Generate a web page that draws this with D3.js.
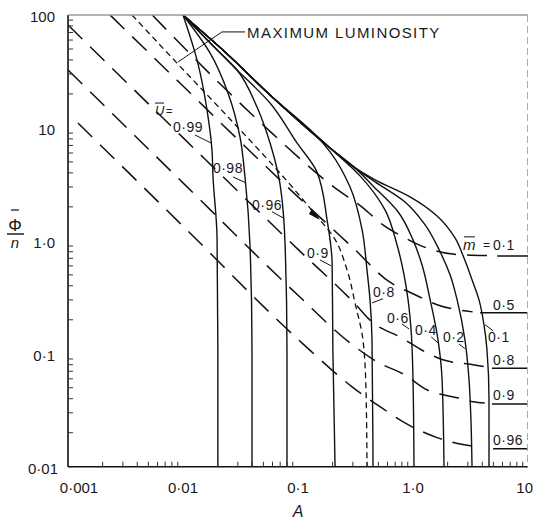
<!DOCTYPE html>
<html>
<head>
<meta charset="utf-8">
<script src="https://cdn.jsdelivr.net/npm/d3@7"></script>
<style>
body { margin: 0; background: #fff; }
svg { display: block; }
text { font-family: "Liberation Sans", Arial, sans-serif; fill: #1a1a1a; }
</style>
</head>
<body>
<div id="chart"></div>
<script>
// solid curves, one per u-bar value: [A, phi/n]
var u099 = [[0.01,100],[0.01324,40],[0.01618,14.4],[0.01786,6.38],[0.01824,3.68],[0.01977,1.08],[0.0201,0.108],[0.0201,0.01]];
var u098 = [[0.01,100],[0.01718,46.1],[0.0246,20.4],[0.0313,8.32],[0.0346,3.68],[0.0383,0.885],[0.0398,0.108],[0.0398,0.01]];
var u096 = [[0.01,100],[0.01824,53.2],[0.0295,32.6],[0.044,15.3],[0.0571,7.36],[0.068,3.68],[0.0771,0.96],[0.0802,0.108],[0.0802,0.01]];
var u09  = [[0.01,100],[0.0283,34],[0.0571,16.6],[0.098,7.36],[0.146,4.08],[0.179,1.53],[0.198,0.638],[0.201,0.108],[0.21,0.01]];
var u08  = [[0.01,100],[0.0237,46.1],[0.0571,19.6],[0.15,8.17],[0.19,6.14],[0.283,3.01],[0.361,1.25],[0.398,0.553],[0.423,0.3],[0.44,0.133],[0.449,0.01]];
var u06  = [[0.01,100],[0.0237,46.1],[0.0571,19.6],[0.19,6.65],[0.346,3.76],[0.571,1.88],[0.726,0.923],[0.836,0.5],[0.906,0.3],[0.962,0.163],[1.0,0.0589],[1.02,0.01]];
var u04  = [[0.01,100],[0.0237,46.1],[0.0571,19.6],[0.19,6.65],[0.313,4.43],[0.44,3.13],[0.741,1.81],[1.0,1.02],[1.197,0.614],[1.41,0.3],[1.65,0.133],[1.79,0.0589],[1.86,0.01]];
var u02  = [[0.01,100],[0.0237,46.1],[0.0571,19.6],[0.19,6.65],[0.313,4.43],[0.468,3.33],[0.851,2.21],[1.27,1.39],[1.72,0.8],[2.1,0.5],[2.42,0.3],[2.83,0.133],[3.07,0.0589],[3.19,0.0261],[3.26,0.01]];
var u01  = [[0.01,100],[0.0237,46.1],[0.0571,19.6],[0.19,6.65],[0.313,4.43],[0.468,3.47],[0.942,2.45],[1.62,1.66],[2.32,1.06],[2.77,0.708],[3.26,0.452],[3.75,0.3],[4.14,0.181],[4.4,0.108],[4.58,0.0392],[4.58,0.01]];

// dashed curves, one per m-bar value, and the flat piece under each label
var m01  = [[0.0054,100],[0.02,25.8],[0.06,8.9],[0.2,3.05],[0.37,1.95],[0.54,1.4],[0.8,1.1],[1.3,0.87],[2.3,0.76],[4.4,0.74]];
var m05  = [[0.00232,100],[0.01,23.5],[0.03,7.9],[0.1,2.45],[0.3,0.87],[0.63,0.43],[1.0,0.34],[1.62,0.272],[3.3,0.235]];
var m08  = [[0.001,81.6],[0.01,8.2],[0.1,0.84],[0.3,0.29],[0.449,0.188],[0.77,0.141],[1.32,0.102],[1.82,0.0885],[3.33,0.08],[4.2,0.077]];
var m09  = [[0.001,32.6],[0.01,3.26],[0.1,0.33],[0.283,0.125],[0.486,0.085],[0.851,0.065],[1.32,0.048],[1.82,0.0433],[2.42,0.0408],[3.33,0.0376],[4.2,0.0366]];
var m096 = [[0.00122,11.07],[0.01,1.35],[0.108,0.125],[0.295,0.051],[0.516,0.034],[0.906,0.0236],[1.62,0.0181],[2.72,0.0157],[4.06,0.0148]];
var m01Tail  = [[5.4,0.736],[10,0.736]];
var m05Tail  = [[3.83,0.231],[10,0.231]];
var m08Tail  = [[4.86,0.0746],[10,0.0746]];
var m09Tail  = [[4.86,0.036],[10,0.036]];
var m096Tail = [[4.97,0.0144],[10,0.0144]];

// maximum luminosity locus (short dashes)
var maxLum = [[0.0036,100],[0.00887,37.5],[0.0256,12.0],[0.08,3.4],[0.155,1.53],[0.198,1.13],[0.267,0.553],[0.313,0.283],[0.367,0.133],[0.39,0.048],[0.398,0.01]];

var xTicks = [0.001,0.01,0.1,1,10];
var xTickLabels = ["0\u00b7001","0\u00b701","0\u00b71","1\u00b70","10"];
var yTicks = [0.01,0.1,1,10,100];
var yTickLabels = ["0\u00b701","0\u00b71","1\u00b70","10","100"];

var uNames = ["0\u00b799","0\u00b798","0\u00b796","0\u00b79","0\u00b78","0\u00b76","0\u00b74","0\u00b72","0\u00b71"];
var mNames = ["0\u00b71","0\u00b75","0\u00b78","0\u00b79","0\u00b796"];

var width = 534, height = 519;
var svg = d3.select("#chart").append("svg")
  .attr("width", width)
  .attr("height", height);

var x = d3.scaleLog().domain([0.001, 10]).range([68, 528]);
var y = d3.scaleLog().domain([0.01, 100]).range([466.7, 15]);

svg.append("clipPath").attr("id", "plot")
  .append("rect")
  .attr("x", x(0.001)).attr("y", y(100))
  .attr("width", x(10) - x(0.001)).attr("height", y(0.01) - y(100));

var g = svg.append("g").attr("clip-path", "url(#plot)");

var lineY = d3.line().x(function(d) { return x(d[0]); }).y(function(d) { return y(d[1]); }).curve(d3.curveMonotoneY);
var lineX = d3.line().x(function(d) { return x(d[0]); }).y(function(d) { return y(d[1]); }).curve(d3.curveMonotoneX);
var straight = d3.line().x(function(d) { return x(d[0]); }).y(function(d) { return y(d[1]); });

// solid u-bar curves
g.selectAll("path.u")
  .data([u099, u098, u096, u09, u08, u06, u04, u02, u01])
  .enter()
  .append("path")
  .attr("class", "u")
  .attr("d", lineY)
  .attr("fill", "none")
  .attr("stroke", "#111")
  .attr("stroke-width", 1.4);

// dashed m-bar curves
g.selectAll("path.m")
  .data([m01, m05, m08, m09, m096])
  .enter()
  .append("path")
  .attr("class", "m")
  .attr("d", lineX)
  .attr("fill", "none")
  .attr("stroke", "#111")
  .attr("stroke-width", 1.5)
  .attr("stroke-dasharray", "20,11");

g.selectAll("path.tail")
  .data([m01Tail, m05Tail, m08Tail, m09Tail, m096Tail])
  .enter()
  .append("path")
  .attr("class", "tail")
  .attr("d", straight)
  .attr("fill", "none")
  .attr("stroke", "#111")
  .attr("stroke-width", 1.5);

// maximum luminosity
g.append("path")
  .datum(maxLum)
  .attr("d", lineY)
  .attr("fill", "none")
  .attr("stroke", "#111")
  .attr("stroke-width", 1.3)
  .attr("stroke-dasharray", "6,4");

// small arrow on the max luminosity curve
var ax = x(0.146), ay = y(1.63);
svg.append("path")
  .attr("d", "M" + (ax - 5) + "," + (ay - 8) + "L" + (ax + 3) + "," + (ay + 3) + "L" + (ax - 8) + "," + (ay - 3) + "Z")
  .attr("fill", "#111");

// frame
svg.append("line")
  .attr("x1", x(0.001)).attr("y1", y(100))
  .attr("x2", x(0.001)).attr("y2", y(0.01))
  .attr("stroke", "#111").attr("stroke-width", 1.6);
svg.append("line")
  .attr("x1", x(0.001)).attr("y1", y(0.01))
  .attr("x2", x(10)).attr("y2", y(0.01))
  .attr("stroke", "#111").attr("stroke-width", 1.6);
svg.append("line")
  .attr("x1", x(0.001)).attr("y1", y(100))
  .attr("x2", x(10)).attr("y2", y(100))
  .attr("stroke", "#999").attr("stroke-width", 1.3);
svg.append("line")
  .attr("x1", x(10) - 0.5).attr("y1", y(100))
  .attr("x2", x(10) - 0.5).attr("y2", y(0.01))
  .attr("stroke", "#aaa").attr("stroke-width", 1)
  .attr("stroke-dasharray", "7,4");

// minor ticks, pointing inwards
var minor = [];
[0.001, 0.01, 0.1, 1].forEach(function(d) {
  for (var k = 2; k <= 9; k++) minor.push(d * k);
});
var minorY = [];
[0.01, 0.1, 1, 10].forEach(function(d) {
  for (var k = 2; k <= 9; k++) minorY.push(d * k);
});
svg.selectAll("line.xt")
  .data(minor)
  .enter()
  .append("line")
  .attr("x1", function(d) { return x(d); })
  .attr("x2", function(d) { return x(d); })
  .attr("y1", y(0.01))
  .attr("y2", y(0.01) - 5)
  .attr("stroke", "#333");
svg.selectAll("line.yt")
  .data(minorY)
  .enter()
  .append("line")
  .attr("x1", x(0.001))
  .attr("x2", x(0.001) + 5)
  .attr("y1", function(d) { return y(d); })
  .attr("y2", function(d) { return y(d); })
  .attr("stroke", "#333");

// tick labels
svg.selectAll("text.xl")
  .data(xTicks)
  .enter()
  .append("text")
  .attr("x", function(d, i) { return i === 0 ? x(d) + 11 : (i === 4 ? 533 : x(d)); })
  .attr("y", 493)
  .attr("text-anchor", function(d, i) { return i === 4 ? "end" : "middle"; })
  .attr("font-size", 15)
  .text(function(d, i) { return xTickLabels[i]; });

svg.selectAll("text.yl")
  .data(yTicks)
  .enter()
  .append("text")
  .attr("x", function(d, i) { return i === 0 ? 58 : 55; })
  .attr("y", function(d) { return y(d) + 7; })
  .attr("text-anchor", "end")
  .attr("font-size", 15)
  .text(function(d, i) { return yTickLabels[i]; });

// axis titles
svg.append("text").attr("x", 15).attr("y", 231).attr("text-anchor", "middle")
  .attr("font-size", 17).text("\u03a6");
svg.append("line").attr("x1", 11).attr("x2", 19).attr("y1", 210).attr("y2", 210)
  .attr("stroke", "#111").attr("stroke-width", 1.2);
svg.append("line").attr("x1", 7).attr("x2", 24).attr("y1", 234).attr("y2", 234)
  .attr("stroke", "#111").attr("stroke-width", 1.4);
svg.append("text").attr("x", 15).attr("y", 248).attr("text-anchor", "middle")
  .attr("font-size", 15).attr("font-style", "italic").text("n");
svg.append("text").attr("x", x(0.1)).attr("y", 517).attr("text-anchor", "middle")
  .attr("font-size", 16).attr("font-style", "italic").text("A");

// curve labels
var uLabelPos = [[0.00818,9.23],[0.0182,4.0],[0.0398,1.88],[0.1197,0.708],[0.449,0.319],[0.594,0.188],[1.04,0.147],[1.82,0.128],[4.49,0.128]];
var uLeaders = [
  [[0.0127,8.67],[0.0175,7.36]],
  [[0.0272,3.68],[0.0353,3.26]],
  [[0.0594,1.81],[0.0741,1.6]],
  [[0.155,0.679],[0.194,0.601]],
  [[0.548,0.307],[0.44,0.282]],
  [[0.8,0.184],[0.923,0.166]],
  [[1.44,0.141],[1.65,0.125]],
  [[2.51,0.122],[2.83,0.111]],
  [[4.97,0.16],[4.23,0.181]]
];
var mLabelPos = [[4.97,0.832],[4.97,0.245],[4.97,0.08],[4.97,0.039],[4.97,0.0157]];

svg.selectAll("text.ul")
  .data(uNames)
  .enter()
  .append("text")
  .attr("x", function(d, i) { return x(uLabelPos[i][0]); })
  .attr("y", function(d, i) { return y(uLabelPos[i][1]); })
  .attr("font-size", 14)
  .attr("letter-spacing", 0.5)
  .text(function(d) { return d; });

svg.selectAll("path.lead")
  .data(uLeaders)
  .enter()
  .append("path")
  .attr("d", straight)
  .attr("stroke", "#111")
  .attr("stroke-width", 1);

svg.selectAll("text.ml")
  .data(mNames)
  .enter()
  .append("text")
  .attr("x", function(d, i) { return x(mLabelPos[i][0]); })
  .attr("y", function(d, i) { return y(mLabelPos[i][1]); })
  .attr("font-size", 14)
  .attr("letter-spacing", 0.5)
  .text(function(d) { return d; });

// "m =" in front of the first m label
var mx = x(2.72), my = y(0.832);
svg.append("text").attr("x", mx).attr("y", my).attr("font-size", 15)
  .attr("font-style", "italic").text("m");
svg.append("line").attr("x1", mx + 1).attr("x2", mx + 12).attr("y1", my - 13).attr("y2", my - 13)
  .attr("stroke", "#111");
svg.append("text").attr("x", mx + 20).attr("y", my - 1).attr("font-size", 12).text("=");

// "U =" above the u labels
var ux = x(0.00571), uy = y(13.0);
svg.append("text").attr("x", ux).attr("y", uy).attr("font-size", 13)
  .attr("font-style", "italic").text("U");
svg.append("line").attr("x1", ux).attr("x2", ux + 9).attr("y1", uy - 12).attr("y2", uy - 12)
  .attr("stroke", "#111");
svg.append("text").attr("x", ux + 11).attr("y", uy).attr("font-size", 11).text("=");

// maximum luminosity label and leader
svg.append("text")
  .attr("x", x(0.0361)).attr("y", y(62.5))
  .attr("font-size", 15)
  .attr("letter-spacing", 1.4)
  .text("MAXIMUM LUMINOSITY");
svg.append("path")
  .attr("d", straight([[0.0346,70.8],[0.0218,70.8],[0.00906,38.4]]))
  .attr("fill", "none")
  .attr("stroke", "#111")
  .attr("stroke-width", 1);
</script>
</body>
</html>
